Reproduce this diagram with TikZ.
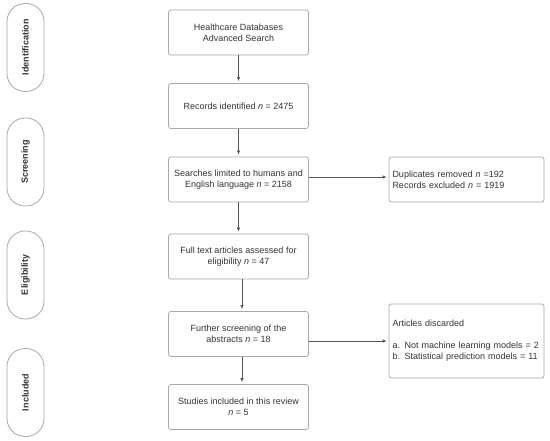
\documentclass[tikz,border=0pt]{standalone}
\usepackage{fontspec}
\setmainfont{Liberation Sans}
\usetikzlibrary{arrows.meta}
\definecolor{boxline}{HTML}{A8A8A8}
\definecolor{conn}{HTML}{555555}
\definecolor{txt}{HTML}{333333}
\begin{document}
\begin{tikzpicture}[x=1pt,y=-1pt,
  every node/.style={font=\fontsize{9}{11}\selectfont, text=txt},
  phase/.style={draw=boxline, line width=0.8pt, minimum width=37pt, minimum height=88pt, rounded corners=18pt, inner sep=0pt},
  phasetext/.style={rotate=90, font=\bfseries\fontsize{9}{11}\selectfont, text=txt},
  mainbox/.style={draw=boxline, line width=0.8pt, minimum width=140pt, minimum height=45pt, rounded corners=2.5pt, align=center, inner sep=2pt},
  sidebox/.style={draw=boxline, line width=0.8pt, minimum width=155pt, rounded corners=2.5pt, align=left, text width=148pt, inner sep=0pt, inner xsep=3.5pt},
  conarrow/.style={draw=conn, line width=0.6pt, -{Latex[length=4pt,width=3.5pt]}, shorten >=2pt}
]
\useasboundingbox (0,0) rectangle (550,441);
% phase pills
\node[phase] (p1) at (25.5,47.5) {};
\node[phasetext] (p1t) at (p1) {Identification};
\node[phase] (p2) at (25.5,162) {};
\node[phasetext] (p2t) at (p2) {Screening};
\node[phase] (p3) at (25.5,275) {};
\node[phasetext] (p3t) at (p3) {Eligibility};
\node[phase] (p4) at (25.5,392.5) {};
\node[phasetext] (p4t) at (p4) {Included};
% main boxes
\node[mainbox] (b1) at (238.5,32.5) {Healthcare Databases\\Advanced Search};
\node[mainbox] (b2) at (238.5,106) {Records identified \textit{n} = 2475};
\node[mainbox] (b3) at (238.5,179.5) {Searches limited to humans and\\English language \textit{n} = 2158};
\node[mainbox] (b4) at (238.5,256.5) {Full text articles assessed for\\eligibility \textit{n} = 47};
\node[mainbox] (b5) at (238.5,334) {Further screening of the\\abstracts \textit{n} = 18};
\node[mainbox] (b6) at (238.5,407) {Studies included in this review\\\textit{n} = 5};
% side boxes
\node[sidebox, minimum height=45pt] (r1) at (466.5,179.5) {Duplicates removed \textit{n} =192\\Records excluded \textit{n} = 1919};
\node[sidebox, minimum height=74pt] (r2) at (466.5,341) {Articles discarded\\[11pt]a. Not machine learning models = 2\\b. Statistical prediction models = 11};
% connectors
\draw[conarrow] (b1) -- (b2);
\draw[conarrow] (b2) -- (b3);
\draw[conarrow] (b3) -- (b4);
\draw[conarrow] ([xshift=3.5pt]b4.south) -- ([xshift=3.5pt]b5.north);
\draw[conarrow] ([xshift=3.5pt]b5.south) -- ([xshift=3.5pt]b6.north);
\draw[conarrow] ([yshift=2.5pt]b3.east) -- ([yshift=2.5pt]r1.west);
\draw[conarrow] (b5.east |- r2.west) -- (r2.west);
\end{tikzpicture}
\end{document}
